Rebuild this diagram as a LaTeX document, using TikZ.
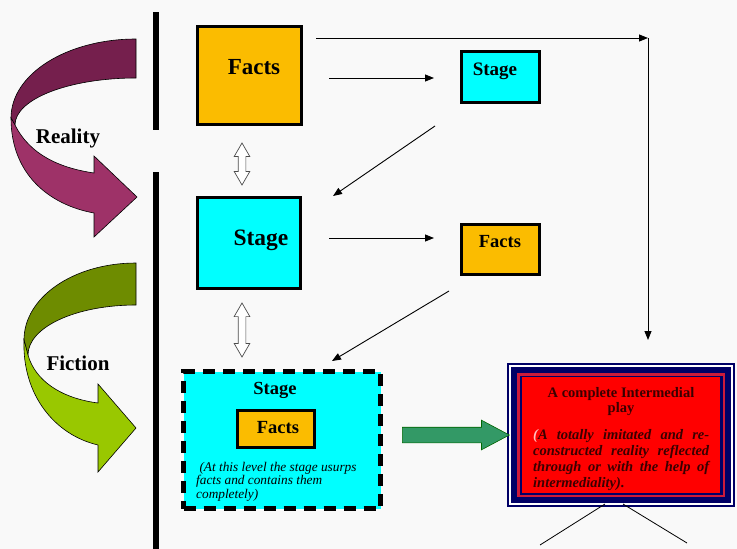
\documentclass[tikz,border=0pt]{standalone}
\usepackage{fontspec}
\setmainfont{Liberation Serif}
\usetikzlibrary{arrows.meta,shapes.arrows,calc}
\definecolor{bg}{HTML}{F9F9F9}
\definecolor{factsorange}{HTML}{FBBC00}
\definecolor{stagecyan}{HTML}{00FFFF}
\definecolor{navyc}{HTML}{000066}
\definecolor{redc}{HTML}{FF0000}
\definecolor{redline}{HTML}{CC1A3A}
\definecolor{playtext}{HTML}{3A0000}
\definecolor{greenarrow}{HTML}{339966}
\definecolor{realdark}{HTML}{751F4D}
\definecolor{reallight}{HTML}{9E3268}
\definecolor{ficdark}{HTML}{6E8C00}
\definecolor{ficlight}{HTML}{99C800}
\begin{document}
\begin{tikzpicture}[x=1pt,y=-1pt,
  box/.style={draw=black, line width=3pt, inner sep=0pt},
  factsbox/.style={box, fill=factsorange},
  stagebox/.style={box, fill=stagecyan},
  lbl/.style={anchor=base, inner sep=0pt, text=black},
  conn/.style={line width=0.9pt, -{Triangle[length=9pt,width=7pt]}},
  dbl/.style={double arrow, draw=black!70, fill=white, line width=0.7pt, rotate=90,
    inner xsep=0pt, inner ysep=3.5pt, double arrow head extend=4pt, double arrow tip angle=60},
  bar/.style={fill=black},
  band/.style={draw=black, line width=0.6pt}]
\fill[bg] (0,0) rectangle (737,549);
\useasboundingbox (0,0) rectangle (737,549);

% vertical bars
\fill[bar] (153,12) rectangle (159,130);
\fill[bar] (153,172) rectangle (159,549);

% Reality curved arrow
\path[band, fill=realdark] (136,39) -- (136,78)
  .. controls (69,78) and (15,99) .. (15,125)
  -- (11,118)
  .. controls (11,74) and (67,39) .. (136,39) -- cycle;
\path[band, fill=reallight] (11,118)
  .. controls (11,175) and (50,205) .. (94,213)
  -- (94,237) -- (137,197) -- (94,156) -- (94,173)
  .. controls (60,168) and (30,155) .. (15,125) -- cycle;
\node[lbl, font=\bfseries\fontsize{21}{25}\selectfont] (reality) at (68,143) {Reality};

% Fiction curved arrow
\path[band, fill=ficdark] (136,263) -- (136,305)
  .. controls (76,305) and (28,327) .. (28,355)
  -- (24,340)
  .. controls (24,297) and (74,263) .. (136,263) -- cycle;
\path[band, fill=ficlight] (24,340)
  .. controls (22,395) and (55,435) .. (98,445)
  -- (98,472) -- (136,428) -- (98,384) -- (98,403)
  .. controls (60,398) and (35,380) .. (28,355) -- cycle;
\node[lbl, font=\bfseries\fontsize{21}{25}\selectfont] (fiction) at (78,370) {Fiction};

% boxes
\node[factsbox, minimum width=104pt, minimum height=98pt] (facts1) at (249.5,75.5) {};
\node[lbl, font=\bfseries\fontsize{23}{27}\selectfont] (facts1t) at (254,74) {Facts};

\node[stagebox, minimum width=78pt, minimum height=51pt] (stageS) at (500.5,77) {};
\node[lbl, font=\bfseries\fontsize{19}{23}\selectfont] (stageSt) at (495,75) {Stage};

\node[stagebox, minimum width=103pt, minimum height=91pt] (stage2) at (249,243) {};
\node[lbl, font=\bfseries\fontsize{23.5}{27}\selectfont] (stage2t) at (261,245) {Stage};

\node[factsbox, minimum width=78pt, minimum height=50pt] (factsS) at (500.5,249.5) {};
\node[lbl, font=\bfseries\fontsize{18.5}{22}\selectfont] (factsSt) at (500,247) {Facts};

% dashed stage box
\node[draw=black, fill=stagecyan, line width=5pt, dash pattern=on 12pt off 8pt,
  minimum width=197pt, minimum height=137pt, inner sep=0pt] (stage3) at (282,440) {};
\node[lbl, font=\bfseries\fontsize{18.5}{22}\selectfont] (stage3t) at (275,394) {Stage};
\node[factsbox, minimum width=77pt, minimum height=37pt] (facts3) at (276,429) {};
\node[lbl, font=\bfseries\fontsize{18.5}{22}\selectfont] (facts3t) at (278,433) {Facts};
\node[anchor=base west, inner sep=0pt] (note) at (196,471)
  {\parbox[t]{190pt}{\raggedright\itshape\fontsize{13.3}{13.5}\selectfont
  \ (At this level the stage usurps\\facts and contains them\\completely)}};

% play box with nested frame
\fill[navyc] (507,363) rectangle (735,507);
\fill[white] (509,365) rectangle (733,505);
\fill[navyc] (511,367) rectangle (731,503);
\fill[redline] (517,373) rectangle (725,497);
\fill[navyc] (519.5,375.5) rectangle (722.5,494.5);
\node[fill=redc, minimum width=198pt, minimum height=116pt, inner sep=0pt] (play) at (621,435) {};
\node[anchor=base, inner sep=0pt, text=playtext] (playtitle) at (621,397)
  {\parbox[t]{200pt}{\centering\bfseries\fontsize{14.5}{15}\selectfont A complete Intermedial\\play}};
\node[anchor=base west, inner sep=0pt, text=playtext] (playnote) at (533,429)
  {\parbox[t]{176pt}{\bfseries\itshape\fontsize{14.5}{16}\selectfont
  {\color{white!75!red}(}A totally imitated and re-\linebreak
  constructed reality reflected\linebreak
  through or with the help of\linebreak
  intermediality).}};

% green block arrow
\node[single arrow, draw=black!60!green, fill=greenarrow, line width=0.6pt,
  minimum height=107pt, inner xsep=0pt, inner ysep=7.5pt,
  single arrow head extend=7pt, single arrow tip angle=56] (garrow) at (448.5,435) {};

% hollow double arrows
\node[dbl, minimum height=42pt] (d1) at (242,164) {};
\node[dbl, minimum height=54pt] (d2) at (242,330) {};

% connectors
\coordinate (a1s) at (329,78);  \coordinate (a1e) at (434,78);
\coordinate (a2s) at (435,126); \coordinate (a2e) at (333,196);
\coordinate (a3s) at (329,238); \coordinate (a3e) at (434,238);
\coordinate (a4s) at (449,291); \coordinate (a4e) at (332,361);
\coordinate (tops) at (316,38); \coordinate (corner) at (648,38);
\coordinate (downe) at (648,340);
\draw[conn] (a1s) -- (a1e);
\draw[conn] (a2s) -- (a2e);
\draw[conn] (a3s) -- (a3e);
\draw[conn] (a4s) -- (a4e);
\draw[conn] (tops) -- (corner);
\draw[conn] (corner) -- (downe);

% legs below play box
\coordinate (l1s) at (605,504); \coordinate (l1e) at (540,545);
\coordinate (l2s) at (623,504); \coordinate (l2e) at (687,543);
\draw[line width=0.8pt] (l1s) -- (l1e);
\draw[line width=0.8pt] (l2s) -- (l2e);
\end{tikzpicture}
\end{document}
